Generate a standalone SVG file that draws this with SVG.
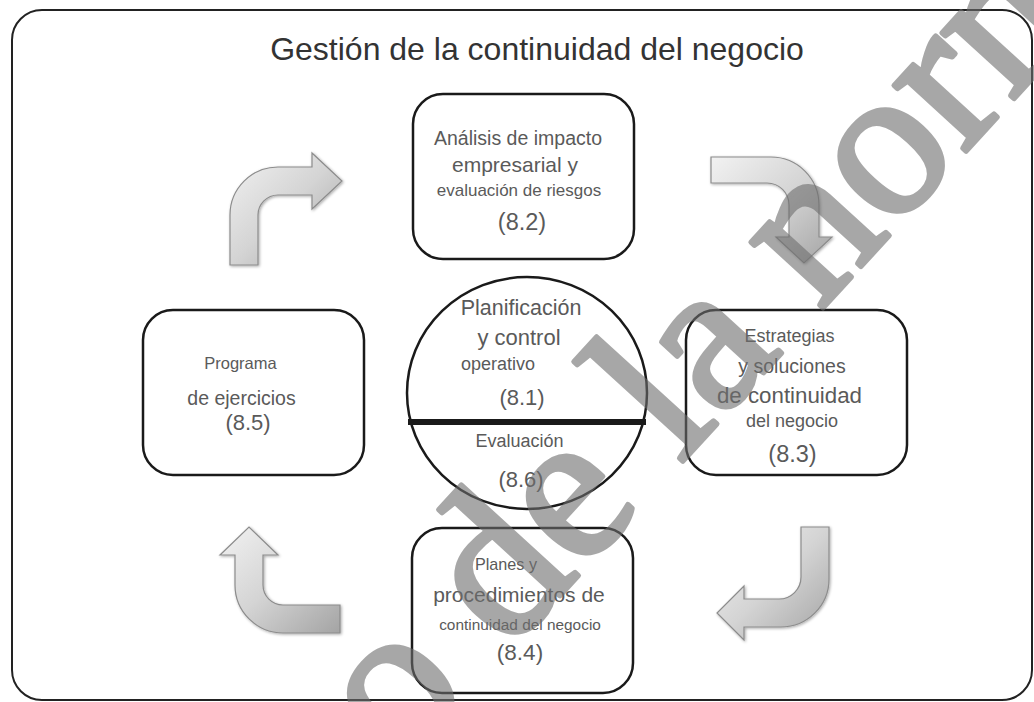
<svg xmlns="http://www.w3.org/2000/svg" width="1034" height="702" viewBox="0 0 1034 702">
<style>
.box{fill:#fff;stroke:#1a1a1a;stroke-width:2.5}
.t{font-family:"Liberation Sans",Arial,sans-serif;fill:#5a5a5a;text-anchor:middle}
.arrow{fill:url(#ag);stroke:#8c8c8c;stroke-width:1.2;filter:url(#sh)}
.wm{font-family:"Liberation Serif","Times New Roman",serif;fill:#6e6e6e;stroke:#6e6e6e;stroke-width:5;stroke-linejoin:round;opacity:0.6}
</style>
<defs>
<linearGradient id="ag" x1="0" y1="0" x2="1" y2="1">
<stop offset="0" stop-color="#f2f2f2"/>
<stop offset="0.5" stop-color="#d4d4d4"/>
<stop offset="1" stop-color="#a4a4a4"/>
</linearGradient>
<filter id="sh" x="-20%" y="-20%" width="140%" height="140%">
<feGaussianBlur in="SourceAlpha" stdDeviation="1.5"/>
<feOffset dx="1" dy="1" result="b"/>
<feComponentTransfer><feFuncA type="linear" slope="0.35"/></feComponentTransfer>
<feMerge><feMergeNode/><feMergeNode in="SourceGraphic"/></feMerge>
</filter>
</defs>
<rect x="0" y="0" width="1034" height="702" fill="#fff"/>
<rect id="frame" x="12" y="10" width="1020" height="690" rx="30" fill="none" stroke="#222" stroke-width="2"/>
<text class="t" x="537" y="60" font-size="32" style="fill:#333">Gestión de la continuidad del negocio</text>

<g id="connectors">
<path class="arrow" d="M230,265 L230,215 A48,48 0 0 1 278,167 L312,167 L312,153 L342,181 L312,209 L312,195 L278,195 A20,20 0 0 0 258,215 L258,265 Z"/>
<path class="arrow" d="M711,157 L771,157 A48,48 0 0 1 819,205 L819,237 L832,237 L804,263 L776,237 L789,237 L789,205 A22,22 0 0 0 767,183 L711,183 Z"/>
<path class="arrow" d="M801,527 L829,527 L829,579 A48,48 0 0 1 781,627 L744,627 L744,640 L717,613 L744,586 L744,599 L779,599 A22,22 0 0 0 801,577 Z"/>
<path class="arrow" d="M340,633 L283,633 A48,48 0 0 1 235,585 L235,555 L220,555 L249,527 L278,555 L263,555 L263,585 A20,20 0 0 0 283,605 L340,605 Z"/>
</g>

<g id="node-8-2">
<rect class="box" x="413" y="94" width="221" height="165" rx="30"/>
<text class="t" x="518" y="145" font-size="19.5">Análisis de impacto</text>
<text class="t" x="515" y="172" font-size="21">empresarial y</text>
<text class="t" x="519" y="196" font-size="17">evaluación de riesgos</text>
<text class="t" x="522" y="230" font-size="23.5">(8.2)</text>
</g>

<g id="node-8-1-8-6">
<ellipse cx="527" cy="393" rx="120" ry="116" fill="#fff" stroke="#1a1a1a" stroke-width="2.5"/>
<line x1="408" y1="422" x2="646" y2="422" stroke="#1a1a1a" stroke-width="6"/>
<text class="t" x="521" y="315" font-size="21.5">Planificación</text>
<text class="t" x="519" y="345" font-size="22">y control</text>
<text class="t" x="498" y="370" font-size="18">operativo</text>
<text class="t" x="522" y="405" font-size="22">(8.1)</text>
<text class="t" x="519.5" y="447" font-size="18">Evaluación</text>
<text class="t" x="521" y="487" font-size="22">(8.6)</text>
</g>

<g id="node-8-5">
<rect class="box" x="143" y="310" width="221" height="165" rx="30"/>
<text class="t" x="240.5" y="369" font-size="16.5">Programa</text>
<text class="t" x="241.5" y="405" font-size="19.5">de ejercicios</text>
<text class="t" x="248" y="430" font-size="22">(8.5)</text>
</g>

<g id="node-8-3">
<rect class="box" x="686" y="310" width="221" height="165" rx="30"/>
<text class="t" x="789.5" y="342" font-size="18">Estrategias</text>
<text class="t" x="792" y="373" font-size="19.5">y soluciones</text>
<text class="t" x="789.5" y="403" font-size="22.3">de continuidad</text>
<text class="t" x="792" y="427" font-size="18">del negocio</text>
<text class="t" x="792.5" y="462" font-size="23.5">(8.3)</text>
</g>

<g id="node-8-4">
<rect class="box" x="412" y="528" width="221" height="165" rx="30"/>
<text class="t" x="506" y="570" font-size="16.2">Planes y</text>
<text class="t" x="519" y="602" font-size="21">procedimientos de</text>
<text class="t" x="520" y="630" font-size="15.4">continuidad del negocio</text>
<text class="t" x="520" y="660" font-size="22.5">(8.4)</text>
</g>

<g id="watermark">
<text class="wm" font-size="213" transform="translate(361,814) rotate(-47.6)">to de la norm</text>
</g>
</svg>
